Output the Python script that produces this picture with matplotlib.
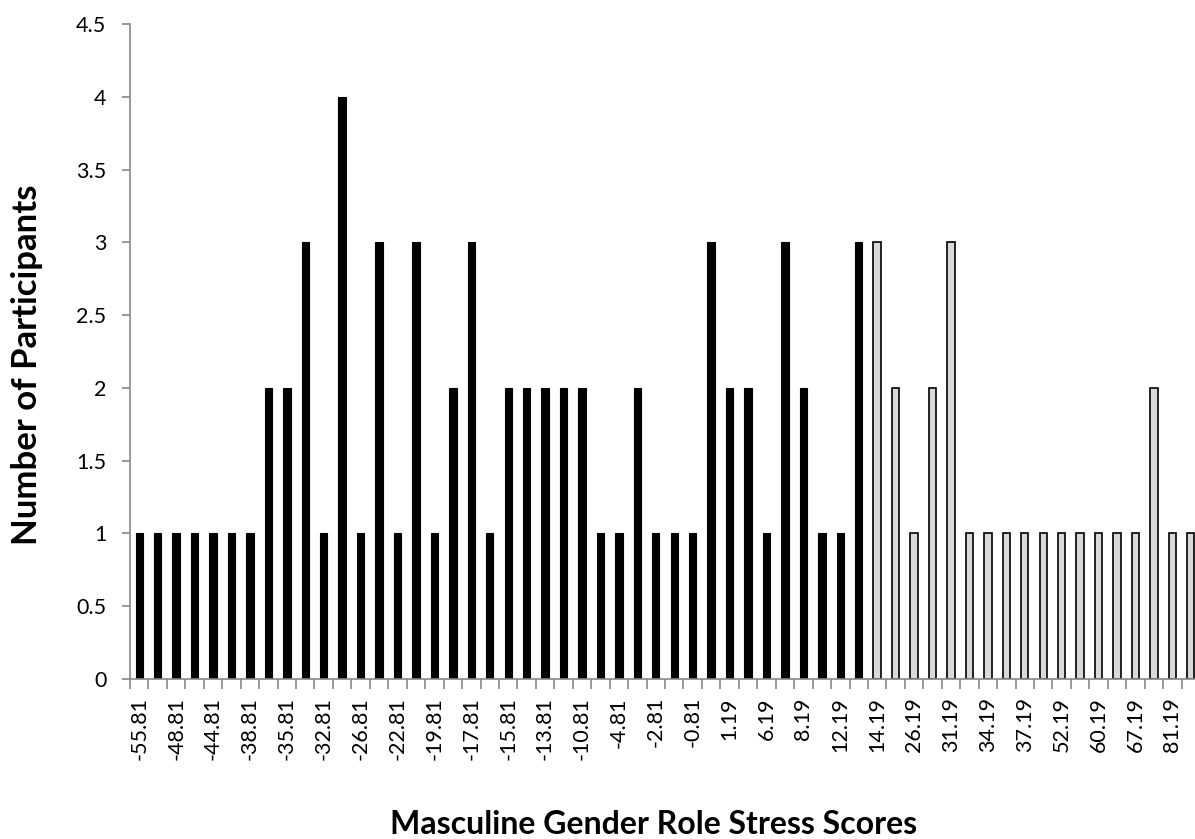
import matplotlib.pyplot as plt
import numpy as np

# counts per score category, left to right (58 bins)
black_counts = [1, 1, 1, 1, 1, 1, 1, 2, 2, 3, 1, 4, 1, 3, 1, 3, 1, 2, 3, 1,
                2, 2, 2, 2, 2, 1, 1, 2, 1, 1, 1, 3, 2, 2, 1, 3, 2, 1, 1, 3]
gray_counts = [3, 2, 1, 2, 3, 1, 1, 1, 1, 1, 1, 1, 1, 1, 1, 2, 1, 1]

# only every other category is labelled on the axis
tick_labels = ['-55.81', '-48.81', '-44.81', '-38.81', '-35.81', '-32.81',
               '-26.81', '-22.81', '-19.81', '-17.81', '-15.81', '-13.81',
               '-10.81', '-4.81', '-2.81', '-0.81', '1.19', '6.19', '8.19',
               '12.19', '14.19', '26.19', '31.19', '34.19', '37.19', '52.19',
               '60.19', '67.19', '81.19']

plt.rcParams['font.family'] = ['Lato', 'DejaVu Sans']

fig = plt.figure(figsize=(11.95, 8.39), dpi=100)
# plot area runs a bit past the right edge, like the cropped original
ax = fig.add_axes([0.1088, 0.1907, 0.8954, 0.7807])

n_black = len(black_counts)
n_total = n_black + len(gray_counts)
x_black = np.arange(n_black)
x_gray = np.arange(n_black, n_total)

ax.bar(x_black, black_counts, width=0.4, color='black', edgecolor='black', linewidth=0.8)
ax.bar(x_gray, gray_counts, width=0.4, color='#d9d9d9', edgecolor='black', linewidth=1.2)

ax.set_xlim(-0.5, n_total - 0.5)
ax.set_ylim(0, 4.5)
ax.set_yticks(np.arange(0, 4.51, 0.5))
ax.set_yticklabels(['0', '0.5', '1', '1.5', '2', '2.5', '3', '3.5', '4', '4.5'])

ax.set_xticks(np.arange(0, n_total, 2))
ax.set_xticklabels(tick_labels, rotation=90)
ax.set_xticks(np.arange(-0.5, n_total, 1), minor=True)
ax.tick_params(axis='x', which='major', length=0, pad=13, labelsize=15.5)
ax.tick_params(axis='x', which='minor', length=7, color='#888888', width=1.2)
ax.tick_params(axis='y', length=6, color='#888888', width=1.2, labelsize=15.5, pad=11)

for side in ['top', 'right']:
    ax.spines[side].set_visible(False)
for side in ['left', 'bottom']:
    ax.spines[side].set_color('#888888')
    ax.spines[side].set_linewidth(1.2)

fig.text(0.547, 0.006, 'Masculine Gender Role Stress Scores', ha='center', va='baseline',
         fontsize=23, fontweight='bold')
fig.text(0.031, 0.565, 'Number of Participants', ha='center', va='baseline',
         rotation=90, rotation_mode='anchor', fontsize=25, fontweight='bold')

fig.savefig('out.png', dpi=100)
